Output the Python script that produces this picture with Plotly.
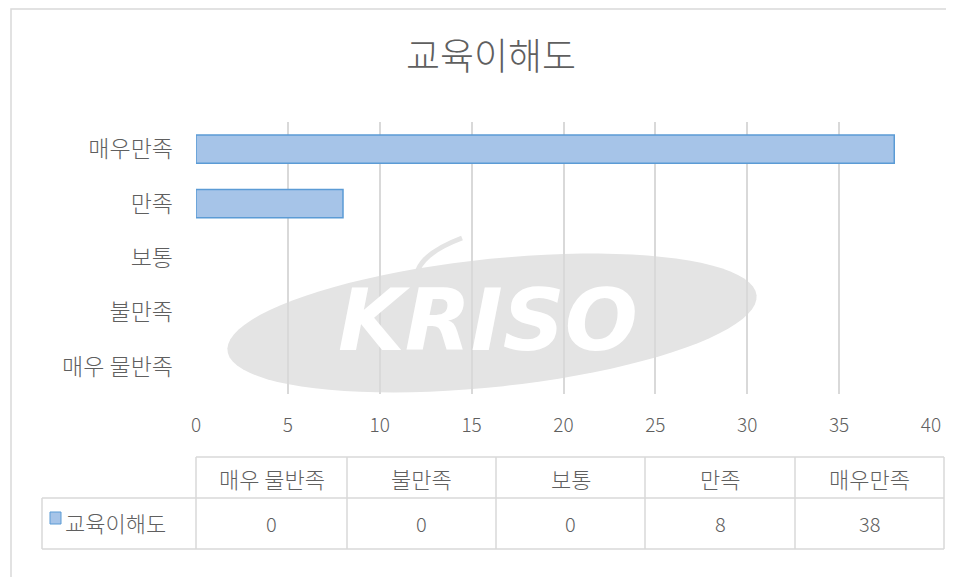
import numpy as np
import plotly.graph_objects as go

categories = ["매우 물반족", "불만족", "보통", "만족", "매우만족"]
values = [0, 0, 0, 8, 38]
series_name = "교육이해도"
x_ticks = [0, 5, 10, 15, 20, 25, 30, 35, 40]

W, H = 954, 577
OFF = 8  # page body margin
FONT = "Noto Sans CJK KR, Noto Sans, sans-serif"
GRAY = "#5f5f5f"
LINE = "#d9d9d9"

def px(x):
    return (x - OFF) / W

def py(y):
    return 1 - (y - OFF) / H

fig = go.Figure()
fig.add_trace(go.Bar(
    y=categories, x=values, orientation="h", name=series_name,
    width=0.52,
    marker=dict(color="#a6c4e8",
                line=dict(color="#5b9bd5", width=[1.5 if v > 0 else 0 for v in values])),
    showlegend=False, hoverinfo="x+y",
))

shapes = []
annotations = []

# outer chart border
shapes.append(dict(type="rect", xref="paper", yref="paper",
                   x0=px(11), x1=px(962), y0=py(9), y1=py(585),
                   line=dict(color=LINE, width=1.5), fillcolor="rgba(0,0,0,0)"))

# watermark: rotated ellipse
t = np.linspace(0, 2 * np.pi, 90)
cx, cy, a, b, ang = 492, 323, 266, 64, np.deg2rad(-6)
ex = cx + a * np.cos(t) * np.cos(ang) - b * np.sin(t) * np.sin(ang)
ey = cy + a * np.cos(t) * np.sin(ang) + b * np.sin(t) * np.cos(ang)
path = "M " + " L ".join(f"{px(x):.5f},{py(y):.5f}" for x, y in zip(ex, ey)) + " Z"
shapes.append(dict(type="path", xref="paper", yref="paper", layer="below",
                   path=path, line=dict(width=0), fillcolor="#e4e4e4"))
shapes.append(dict(type="path", xref="paper", yref="paper", layer="below",
                   path=f"M {px(462)},{py(238)} Q {px(425)},{py(252)} {px(418)},{py(270)}",
                   line=dict(color="#e4e4e4", width=5)))
annotations.append(dict(x=px(488), y=py(320), xref="paper", yref="paper",
                        xanchor="center", yanchor="middle",
                        text="<i><b>KRISO</b></i>", showarrow=False,
                        font=dict(family="DejaVu Sans, sans-serif", size=86, color="white")))

# table geometry
col_edges = [196, 347, 496, 645, 795, 944]
y_top, y_mid, y_bot = 457, 498, 549
left = 42

for xe in col_edges:
    shapes.append(dict(type="line", xref="paper", yref="paper",
                       x0=px(xe), x1=px(xe), y0=py(y_top), y1=py(y_bot),
                       line=dict(color=LINE, width=1.5)))
shapes.append(dict(type="line", xref="paper", yref="paper",
                   x0=px(left), x1=px(left), y0=py(y_mid), y1=py(y_bot),
                   line=dict(color=LINE, width=1.5)))
shapes.append(dict(type="line", xref="paper", yref="paper",
                   x0=px(196), x1=px(944), y0=py(y_top), y1=py(y_top),
                   line=dict(color=LINE, width=1.5)))
for yy in (y_mid, y_bot):
    shapes.append(dict(type="line", xref="paper", yref="paper",
                       x0=px(left), x1=px(944), y0=py(yy), y1=py(yy),
                       line=dict(color=LINE, width=1.5)))

for i, (lab, val) in enumerate(zip(categories, values)):
    ccx = (col_edges[i] + col_edges[i + 1]) / 2
    annotations.append(dict(x=px(ccx), y=py((y_top + y_mid) / 2), xref="paper", yref="paper",
                            xanchor="center", yanchor="middle",
                            text=lab, showarrow=False,
                            font=dict(family=FONT, size=22, color=GRAY, weight=300)))
    annotations.append(dict(x=px(ccx), y=py((y_mid + y_bot) / 2), xref="paper", yref="paper",
                            xanchor="center", yanchor="middle",
                            text=str(val), showarrow=False,
                            font=dict(family=FONT, size=20, color=GRAY, weight=300)))

# legend key in table
shapes.append(dict(type="rect", xref="paper", yref="paper",
                   x0=px(50), x1=px(61), y0=py(512), y1=py(524),
                   line=dict(color="#5b9bd5", width=1), fillcolor="#a6c4e8"))
annotations.append(dict(x=px(63), y=py(522), xref="paper", yref="paper",
                        xanchor="left", yanchor="middle", text=series_name, showarrow=False,
                        font=dict(family=FONT, size=22, color=GRAY, weight=300)))

fig.update_layout(
    width=W, height=H,
    margin=dict(l=0, r=0, t=0, b=0, autoexpand=False),
    paper_bgcolor="white", plot_bgcolor="rgba(0,0,0,0)",
    title=dict(text=series_name, x=px(491), y=py(57), xanchor="center", yanchor="middle",
               automargin=False,
               font=dict(family=FONT, size=37, color=GRAY, weight=300)),
    xaxis=dict(domain=[px(196), px(931)], range=[0, 40], tickvals=x_ticks,
               automargin=False,
               showgrid=True, gridcolor=LINE, gridwidth=1.5, zeroline=False,
               showline=False, ticks="", ticklabelstandoff=18,
               tickfont=dict(family=FONT, size=19, color=GRAY, weight=300), fixedrange=True),
    yaxis=dict(domain=[py(394), py(122)], range=[-0.5, 4.5],
               automargin=False,
               categoryorder="array", categoryarray=categories,
               showgrid=False, zeroline=False, showline=False, ticks="",
               ticklabelstandoff=22,
               tickfont=dict(family=FONT, size=23, color=GRAY, weight=300), fixedrange=True),
    shapes=shapes, annotations=annotations,
    bargap=0.48,
)

fig.write_html("out.html")
